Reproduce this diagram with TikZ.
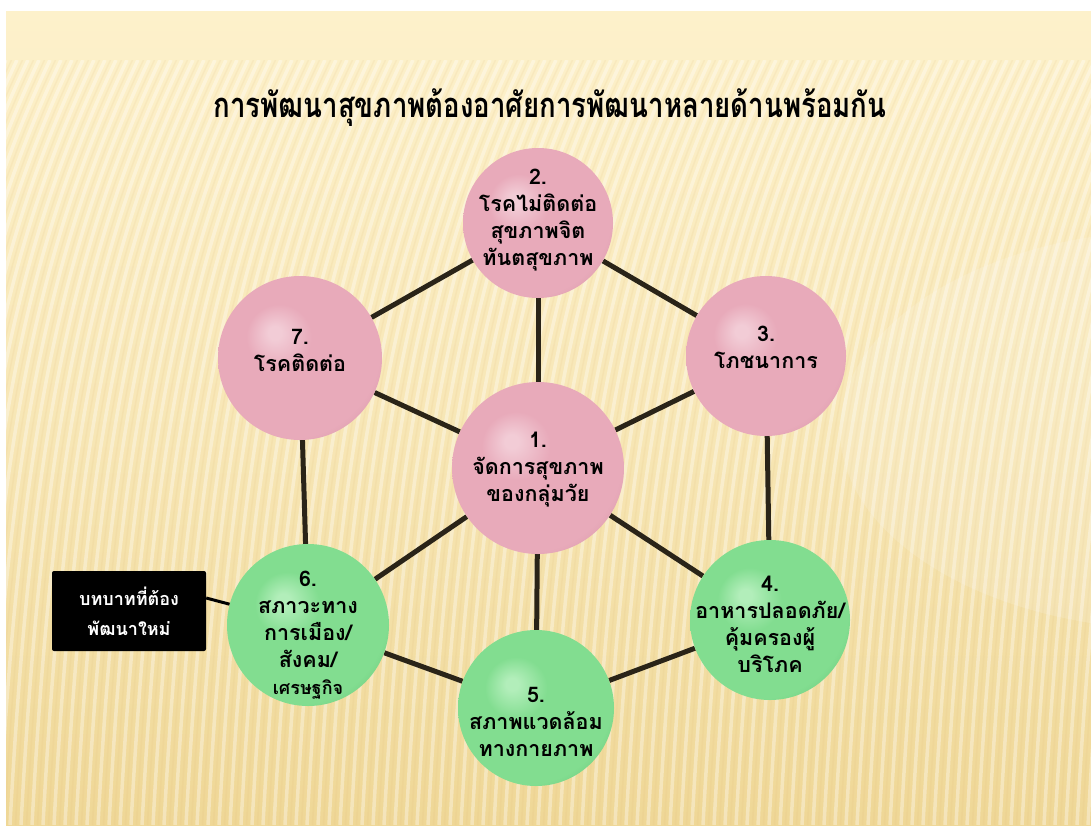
\documentclass[tikz,border=0pt]{standalone}
\usepackage{fontspec}
\newfontfamily\thaifont[Script=Thai]{Loma}
\definecolor{pinkhi}{HTML}{F2CCD6}
\definecolor{pinkmid}{HTML}{E8AABA}
\definecolor{pinkdk}{HTML}{D08E9F}
\definecolor{greenhi}{HTML}{B2EEBA}
\definecolor{greenmid}{HTML}{82DD90}
\definecolor{greendk}{HTML}{5CBA6D}
\definecolor{bgtop}{HTML}{FDF1CB}
\definecolor{bgbot}{HTML}{EFD796}
\definecolor{edgec}{HTML}{2A2418}
\pgfdeclareradialshading{pinkball}{\pgfpoint{-8bp}{8bp}}{color(0bp)=(pinkhi); color(2bp)=(pinkhi); color(10bp)=(pinkmid); color(28bp)=(pinkmid); color(38bp)=(pinkdk); color(50bp)=(pinkdk)}
\pgfdeclareradialshading{greenball}{\pgfpoint{-8bp}{8bp}}{color(0bp)=(greenhi); color(2bp)=(greenhi); color(10bp)=(greenmid); color(28bp)=(greenmid); color(38bp)=(greendk); color(50bp)=(greendk)}
\pgfdeclarelayer{back}
\pgfdeclarelayer{mid}
\pgfsetlayers{back,mid,main}
\tikzset{
  pinkb/.style={circle, inner sep=0pt, shade, shading=pinkball, minimum size=#1},
  greenb/.style={circle, inner sep=0pt, shade, shading=greenball, minimum size=#1},
  lbl/.style={align=center, text=black, font=\thaifont\bfseries\fontsize{21.5}{27}\selectfont},
  link/.style={draw=edgec, line width=5pt},
  rolebox/.style={fill=black, rounded corners=2pt, minimum width=154pt, minimum height=80pt, text=white, align=center, font=\thaifont\bfseries\fontsize{18}{30}\selectfont}
}
\begin{document}
\begin{tikzpicture}[x=1pt,y=-1pt]
\useasboundingbox (0,0) rectangle (1091,825);
\begin{pgfonlayer}{back}
\fill[white] (0,0) rectangle (1091,825);
\shade[top color=bgtop, bottom color=bgbot, middle color=bgtop!60!bgbot] (6,11) rectangle (1091,825);
\begin{scope}
\clip (6,60) rectangle (1091,825);
\foreach \x in {-320,-309,...,1100} {
  \draw[white, opacity=0.35, line width=3.5pt] (\x,825) .. controls (\x+20,450) and (\x+60,250) .. (\x+150,60);
  \draw[bgbot!70!brown, opacity=0.12, line width=1.5pt] (\x+5.5,825) .. controls (\x+25.5,450) and (\x+65.5,250) .. (\x+155.5,60);
}
\end{scope}
\fill[white, opacity=0.14] (1180,430) ellipse [x radius=340, y radius=200];
\end{pgfonlayer}

\node[font=\thaifont\bfseries\fontsize{30}{36}\selectfont] (title) at (550,108) {\scalebox{0.92}[1.15]{การพัฒนาสุขภาพต้องอาศัยการพัฒนาหลายด้านพร้อมกัน}};

\node[pinkb=150pt] (s2) at (538,223) {};
\node[pinkb=164pt] (s7) at (300,358) {};
\node[pinkb=160pt] (s3) at (766,356) {};
\node[pinkb=172pt] (s1) at (538,468) {};
\node[greenb=162pt] (s6) at (308,625) {};
\node[greenb=160pt] (s4) at (770,620) {};
\node[greenb=156pt] (s5) at (536,708) {};

\begin{pgfonlayer}{mid}
\draw[link] (s2) -- (s7);
\draw[link] (s2) -- (s3);
\draw[link] (s2) -- (s1);
\draw[link] (s7) -- (s1);
\draw[link] (s3) -- (s1);
\draw[link] (s7) -- (s6);
\draw[link] (s3) -- (s4);
\draw[link] (s1) -- (s6);
\draw[link] (s1) -- (s4);
\draw[link] (s1) -- (s5);
\draw[link] (s6) -- (s5);
\draw[link] (s4) -- (s5);
\end{pgfonlayer}

\node[lbl] (t2) at (538,220) {2.\\โรคไม่ติดต่อ\\สุขภาพจิต\\ทันตสุขภาพ};
\node[lbl] (t7) at (300,350) {7.\\โรคติดต่อ};
\node[lbl] (t3) at (766,347) {3.\\โภชนาการ};
\node[lbl] (t1) at (538,470) {1.\\จัดการสุขภาพ\\ของกลุ่มวัย};
\node[lbl] (t6) at (308,635) {6.\\สภาวะทาง\\การเมือง/\\สังคม/\\{\fontsize{18}{25}\selectfont เศรษฐกิจ}};
\node[lbl] (t4) at (770,624) {4.\\อาหารปลอดภัย/\\คุ้มครองผู้\\บริโภค};
\node[lbl] (t5) at (536,722) {5.\\สภาพแวดล้อม\\ทางกายภาพ};

\node[rolebox] (box) at (129,611) {บทบาทที่ต้อง\\พัฒนาใหม่};
\draw[black, line width=3pt] ([yshift=13pt]box.east) -- (s6);
\end{tikzpicture}
\end{document}
